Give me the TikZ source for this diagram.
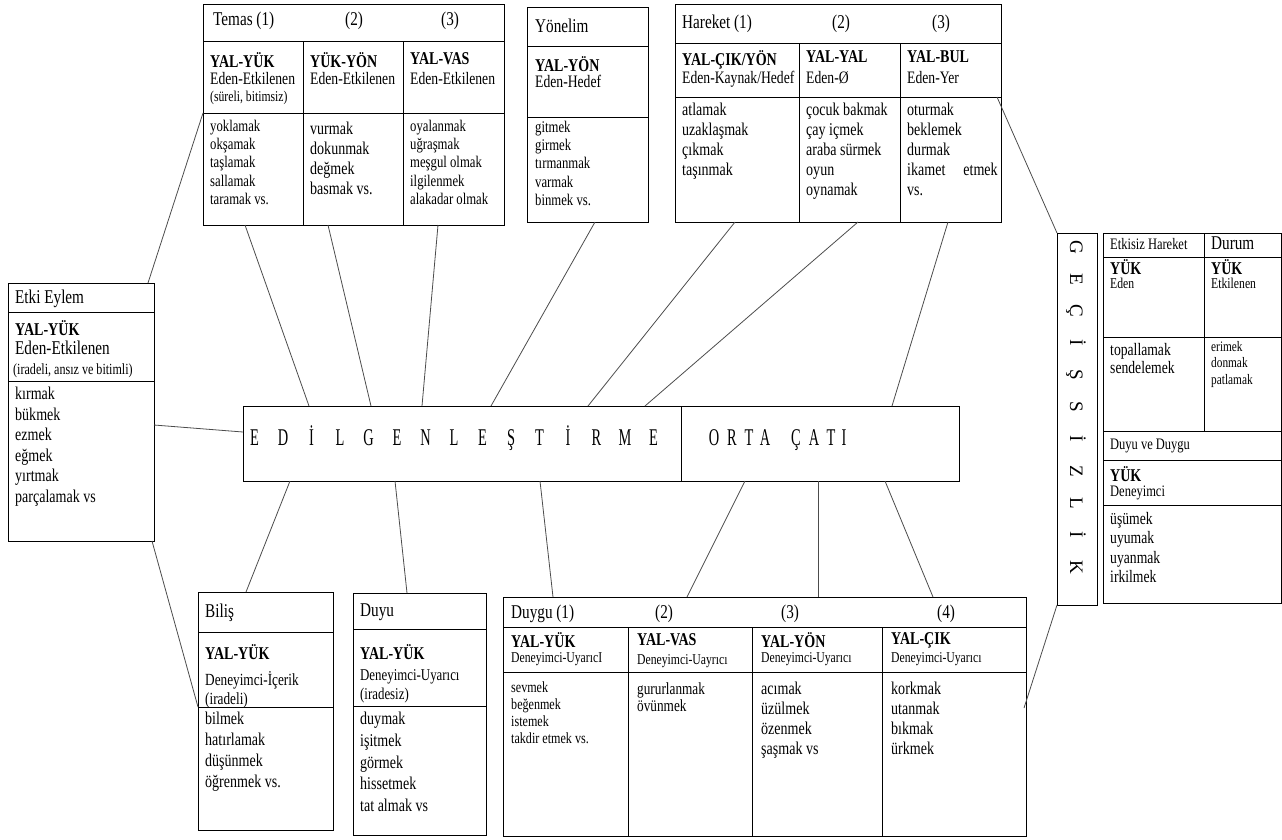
\documentclass[tikz,border=0pt]{standalone}
\usepackage{fontspec}
\setmainfont{Liberation Serif}[FakeStretch=0.78]
\newfontfamily\narrowserif{Liberation Serif}[FakeStretch=0.6]
\newfontfamily\plainserif{Liberation Serif}
\usetikzlibrary{calc}

\begin{document}
\begin{tikzpicture}[x=1pt, y=-1pt,
    % frames of the tables and the thin connectors
    frame/.style={draw=black, line width=1pt, inner sep=0pt, anchor=north west},
    rule/.style={draw=black, line width=0.9pt},
    link/.style={draw=black!70, line width=0.8pt},
    % the texts
    txt/.style={inner sep=0pt, anchor=north west, align=left},
    head/.style={txt, font=\fontsize{19.5}{20}\selectfont},
    code/.style={txt, font=\fontsize{18}{20}\selectfont\bfseries},
    role/.style={txt, font=\fontsize{17.5}{19}\selectfont},
    note/.style={txt, font=\fontsize{15}{17}\selectfont},
    verbs/.style={txt, font=\fontsize{18}{20}\selectfont},
    verbsmall/.style={txt, font=\fontsize{16.3}{18.2}\selectfont},
    bigletter/.style={inner sep=0pt, anchor=base, font=\narrowserif\fontsize{24}{24}\selectfont},
    sideletter/.style={inner sep=0pt, anchor=base, rotate=-90, font=\plainserif\fontsize{19}{19}\selectfont}
]
\useasboundingbox (0,0) rectangle (1282,839);

% Frames of the tables
\node[frame, minimum width=301pt, minimum height=221pt] (temas) at (203,4) {};
\node[frame, minimum width=121pt, minimum height=215pt] (yon) at (527,7) {};
\node[frame, minimum width=326pt, minimum height=218pt] (har) at (675,4) {};
\node[frame, minimum width=146pt, minimum height=258pt] (etki) at (8,283) {};
\node[frame, minimum width=716pt, minimum height=75pt] (edil) at (243,406) {};
\node[frame, minimum width=135pt, minimum height=238pt] (bilis) at (198,592) {};
\node[frame, minimum width=133pt, minimum height=242pt] (duyu) at (353,593) {};
\node[frame, minimum width=523pt, minimum height=239pt] (duygu) at (503,597) {};
\node[frame, minimum width=40pt, minimum height=372pt] (gec) at (1057,233) {};
\node[frame, minimum width=178pt, minimum height=370pt] (etkisiz) at (1103,233) {};

% Rows and columns inside the frames
\draw[rule] (203,41) -- (504,41) (203,113) -- (504,113) (303,41) -- (303,225) (403,41) -- (403,225);
\draw[rule] (527,46) -- (648,46) (527,117) -- (648,117);
\draw[rule] (675,43) -- (1001,43) (675,97) -- (1001,97) (799,43) -- (799,222) (900,43) -- (900,222);
\draw[rule] (8,312) -- (154,312) (8,381) -- (154,381);
\draw[rule] (681,406) -- (681,481);
\draw[rule] (198,632) -- (333,632) (198,707) -- (333,707);
\draw[rule] (353,629) -- (486,629) (353,706) -- (486,706);
\draw[rule] (503,627) -- (1026,627) (503,672) -- (1026,672)
    (628,627) -- (628,836) (752,627) -- (752,836) (882,627) -- (882,836);
\draw[rule] (1103,257) -- (1281,257) (1103,337) -- (1281,337) (1103,431) -- (1281,431)
    (1103,460) -- (1281,460) (1103,505) -- (1281,505) (1204,233) -- (1204,431);

% End points of the connectors
\coordinate (temas-b1) at (245,225);
\coordinate (temas-b2) at (328,225);
\coordinate (temas-b3) at (438,225);
\coordinate (temas-l) at (203,113);
\coordinate (yon-b) at (595,222);
\coordinate (har-b1) at (735,222);
\coordinate (har-b2) at (858,222);
\coordinate (har-b3) at (948,222);
\coordinate (har-r) at (997,97);
\coordinate (etki-tr) at (148,283);
\coordinate (etki-r) at (154,425);
\coordinate (etki-b) at (152,541);
\coordinate (edil-l) at (243,432);
\coordinate (edil-t1) at (309,406);
\coordinate (edil-t2) at (371,406);
\coordinate (edil-t3) at (422,406);
\coordinate (edil-t4) at (491,406);
\coordinate (edil-t5) at (588,406);
\coordinate (edil-t6) at (645,406);
\coordinate (orta-t) at (892,406);
\coordinate (edil-b1) at (290,481);
\coordinate (edil-b2) at (395,481);
\coordinate (edil-b3) at (540,481);
\coordinate (orta-b1) at (745,481);
\coordinate (orta-b2) at (818,481);
\coordinate (orta-b3) at (885,481);
\coordinate (bilis-t) at (246,592);
\coordinate (bilis-l) at (198,707);
\coordinate (duyu-t) at (407,593);
\coordinate (duygu-t1) at (553,597);
\coordinate (duygu-t2) at (687,597);
\coordinate (duygu-t3) at (818,597);
\coordinate (duygu-t4) at (933,597);
\coordinate (duygu-r) at (1024,708);
\coordinate (gec-tl) at (1057,233);
\coordinate (gec-bl) at (1057,605);

% Draw the connectors
\draw[link] (temas-b1) -- (edil-t1);
\draw[link] (temas-b2) -- (edil-t2);
\draw[link] (temas-b3) -- (edil-t3);
\draw[link] (yon-b) -- (edil-t4);
\draw[link] (har-b1) -- (edil-t5);
\draw[link] (har-b2) -- (edil-t6);
\draw[link] (har-b3) -- (orta-t);
\draw[link] (har-r) -- (gec-tl);
\draw[link] (temas-l) -- (etki-tr);
\draw[link] (etki-r) -- (edil-l);
\draw[link] (etki-b) -- (bilis-l);
\draw[link] (edil-b1) -- (bilis-t);
\draw[link] (edil-b2) -- (duyu-t);
\draw[link] (edil-b3) -- (duygu-t1);
\draw[link] (orta-b1) -- (duygu-t2);
\draw[link] (orta-b2) -- (duygu-t3);
\draw[link] (orta-b3) -- (duygu-t4);
\draw[link] (gec-bl) -- (duygu-r);

% Temas
\node[head] (temas-h1) at (213,12) {Temas (1)};
\node[head] (temas-h2) at (345,12) {(2)};
\node[head] (temas-h3) at (441,12) {(3)};
\node[code] (temas-c1) at (210,52) {YAL-YÜK};
\node[role] (temas-r1) at (210,72) {Eden-Etkilenen};
\node[note] (temas-n1) at (210,91) {(süreli, bitimsiz)};
\node[verbsmall] (temas-v1) at (210,120) {yoklamak\\okşamak\\taşlamak\\sallamak\\taramak vs.};
\node[code] (temas-c2) at (310,52) {YÜK-YÖN};
\node[role] (temas-r2) at (310,72) {Eden-Etkilenen};
\node[verbs] (temas-v2) at (310,122) {vurmak\\dokunmak\\değmek\\basmak vs.};
\node[code] (temas-c3) at (410,52) {YAL-VAS};
\node[role] (temas-r3) at (410,72) {Eden-Etkilenen};
\node[verbsmall] (temas-v3) at (410,120) {oyalanmak\\uğraşmak\\meşgul olmak\\ilgilenmek\\alakadar olmak};

% Yönelim
\node[head] (yon-h) at (535,19) {Yönelim};
\node[code] (yon-c) at (535,56) {YAL-YÖN};
\node[role] (yon-r) at (535,75) {Eden-Hedef};
\node[verbsmall] (yon-v) at (535,121) {gitmek\\girmek\\tırmanmak\\varmak\\binmek vs.};

% Hareket
\node[head] (har-h1) at (682,15) {Hareket (1)};
\node[head] (har-h2) at (832,15) {(2)};
\node[head] (har-h3) at (932,15) {(3)};
\node[code] (har-c1) at (682,50) {YAL-ÇIK/YÖN};
\node[role] (har-r1) at (682,71) {Eden-Kaynak/Hedef};
\node[verbs] (har-v1) at (682,103) {atlamak\\uzaklaşmak\\çıkmak\\taşınmak};
\node[code] (har-c2) at (806,50) {YAL-YAL};
\node[role] (har-r2) at (806,71) {Eden-Ø};
\node[verbs] (har-v2) at (806,103) {çocuk bakmak\\çay içmek\\araba sürmek\\oyun\\oynamak};
\node[code] (har-c3) at (907,50) {YAL-BUL};
\node[role] (har-r3) at (907,71) {Eden-Yer};
\node[verbs] (har-v3) at (907,103) {oturmak\\beklemek\\durmak\\ikamet\quad etmek\\vs.};

% Etki Eylem
\node[head] (etki-h) at (15,290) {Etki Eylem};
\node[code] (etki-c) at (15,320) {YAL-YÜK};
\node[head] (etki-r) at (15,341) {Eden-Etkilenen};
\node[txt, font=\fontsize{15.5}{17}\selectfont] (etki-n) at (13,364) {(iradeli, ansız ve bitimli)};
\node[txt, font=\fontsize{18}{20.5}\selectfont] (etki-v) at (15,387) {kırmak\\bükmek\\ezmek\\eğmek\\yırtmak\\parçalamak vs};

% Biliş
\node[head] (bilis-h) at (205,604) {Biliş};
\node[code] (bilis-c) at (205,644) {YAL-YÜK};
\node[txt, font=\fontsize{17}{19}\selectfont] (bilis-r) at (205,671) {Deneyimci-İçerik\\(iradeli)};
\node[txt, font=\fontsize{18}{21}\selectfont] (bilis-v) at (205,712) {bilmek\\hatırlamak\\düşünmek\\öğrenmek vs.};

% Duyu
\node[head] (duyu-h) at (360,604) {Duyu};
\node[code] (duyu-c) at (360,644) {YAL-YÜK};
\node[txt, font=\fontsize{16.5}{19}\selectfont] (duyu-r) at (360,669) {Deneyimci-Uyarıcı\\(iradesiz)};
\node[txt, font=\fontsize{18}{21.7}\selectfont] (duyu-v) at (360,712) {duymak\\işitmek\\görmek\\hissetmek\\tat almak vs};

% Duygu
\node[head] (duygu-h1) at (511,605) {Duygu (1)};
\node[head] (duygu-h2) at (655,605) {(2)};
\node[head] (duygu-h3) at (781,605) {(3)};
\node[head] (duygu-h4) at (937,605) {(4)};
\node[code] (duygu-c1) at (511,632) {YAL-YÜK};
\node[note] (duygu-r1) at (511,652) {Deneyimci-UyarıcI};
\node[txt, font=\fontsize{15.5}{17}\selectfont] (duygu-v1) at (511,682) {sevmek\\beğenmek\\istemek\\takdir etmek vs.};
\node[code] (duygu-c2) at (637,633) {YAL-VAS};
\node[note] (duygu-r2) at (637,654) {Deneyimci-Uayrıcı};
\node[txt, font=\fontsize{17}{17.5}\selectfont] (duygu-v2) at (637,682) {gururlanmak\\övünmek};
\node[code] (duygu-c3) at (761,632) {YAL-YÖN};
\node[note] (duygu-r3) at (761,652) {Deneyimci-Uyarıcı};
\node[verbs] (duygu-v3) at (761,682) {acımak\\üzülmek\\özenmek\\şaşmak vs};
\node[code] (duygu-c4) at (891,632) {YAL-ÇIK};
\node[note] (duygu-r4) at (891,652) {Deneyimci-Uyarıcı};
\node[verbs] (duygu-v4) at (891,682) {korkmak\\utanmak\\bıkmak\\ürkmek};

% Etkisiz hareket, durum, duyu ve duygu
\node[txt, font=\fontsize{16}{17}\selectfont] (etkisiz-h1) at (1110,238) {Etkisiz Hareket};
\node[head] (etkisiz-h2) at (1211,237) {Durum};
\node[code] (etkisiz-c1) at (1110,259) {YÜK};
\node[note] (etkisiz-r1) at (1110,278) {Eden};
\node[code] (etkisiz-c2) at (1211,259) {YÜK};
\node[note] (etkisiz-r2) at (1211,278) {Etkilenen};
\node[txt, font=\fontsize{17.5}{18}\selectfont] (etkisiz-v1) at (1110,343) {topallamak\\sendelemek};
\node[txt, font=\fontsize{14.5}{16.5}\selectfont] (etkisiz-v2) at (1211,341) {erimek\\donmak\\patlamak};
\node[txt, font=\fontsize{16}{17}\selectfont] (dvd-h) at (1110,439) {Duyu ve Duygu};
\node[code] (dvd-c) at (1110,466) {YÜK};
\node[txt, font=\fontsize{16}{17}\selectfont] (dvd-r) at (1110,486) {Deneyimci};
\node[txt, font=\fontsize{17.5}{19.5}\selectfont] (dvd-v) at (1110,512) {üşümek\\uyumak\\uyanmak\\irkilmek};

% Spaced titles
\foreach \ch [count=\i] in {E,D,İ,L,G,E,N,L,E,Ş,T,İ,R,M,E}
    \node[bigletter] (edil-\i) at ({226+28.5*\i},445) {\ch};
\foreach \ch/\xx [count=\i] in {O/714,R/732,T/749,A/765,Ç/796,A/814,T/831,I/844}
    \node[bigletter] (orta-\i) at (\xx,445) {\ch};
\foreach \ch [count=\i] in {G,E,Ç,İ,Ş,S,İ,Z,L,İ,K}
    \node[sideletter] (gec-\i) at (1070,{215+32*\i}) {\ch};

\end{tikzpicture}
\end{document}
